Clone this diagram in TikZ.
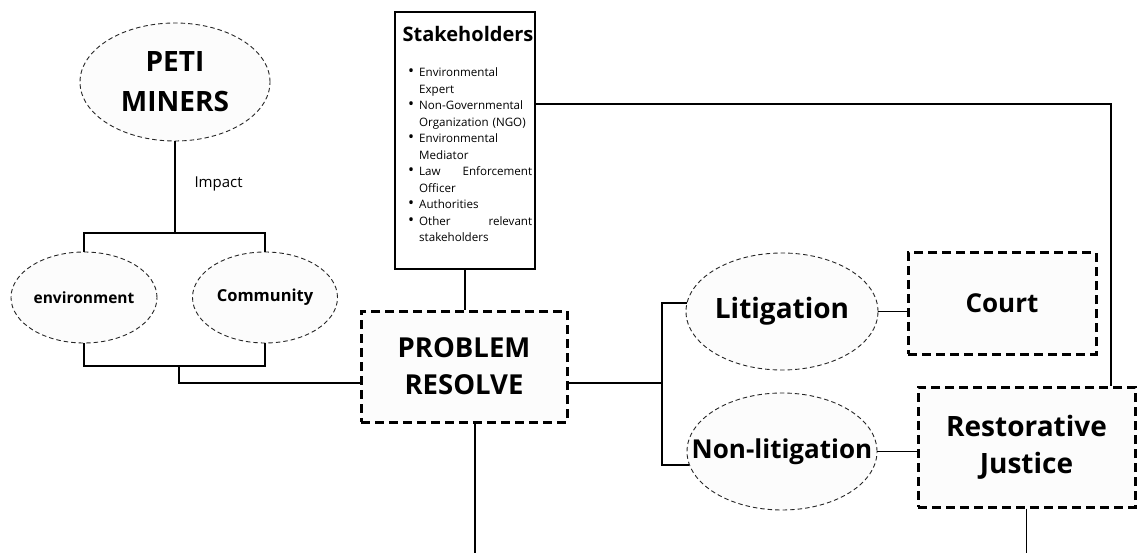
\documentclass[tikz,border=0pt]{standalone}
\usepackage{fontspec}
\setmainfont{Open Sans}
\usetikzlibrary{shapes.geometric}
\tikzset{
  conn/.style={line width=1.9pt, black},
  dashell/.style={ellipse, draw=black!85, line width=0.9pt, dash pattern=on 4.5pt off 3pt, fill=black!1, inner sep=0pt},
  thickbox/.style={rectangle, draw=black, line width=3pt, dash pattern=on 9pt off 5pt, fill=black!1, inner sep=0pt, align=center},
  bigtxt/.style={font=\fontsize{27.5}{37}\selectfont\bfseries},
  lbl/.style={inner sep=0pt, align=center}
}
\newcommand{\bul}{\makebox[0pt][r]{\raisebox{0pt}{\fontsize{16}{16}\selectfont\textbullet}\hspace{5pt}}}
\begin{document}
\begin{tikzpicture}[x=1pt, y=-1pt]
\useasboundingbox[fill=white] (0,0) rectangle (1137,553);

% ellipses (shapes), with their texts on top
\node[dashell, minimum width=190pt, minimum height=118pt] (peti) at (175,82) {};
\node[lbl, font=\fontsize{28}{40}\selectfont\bfseries] (petit) at (peti) {PETI\\MINERS};
\node[dashell, minimum width=146pt, minimum height=91pt] (env) at (84,297.5) {};
\node[lbl, font=\fontsize{15.5}{18}\selectfont\bfseries] (envt) at (env) {environment};
\node[dashell, minimum width=145pt, minimum height=91pt] (com) at (265,297.5) {};
\node[lbl, font=\fontsize{16.5}{18}\selectfont\bfseries] (comt) at (com) {Community};
\node[anchor=west, font=\fontsize{15}{18}\selectfont] (imp) at (191,184) {Impact};

\node[rectangle, draw=black, line width=1.5pt, fill=white, minimum width=140pt, minimum height=257pt, inner sep=0pt] (sh) at (465,140.5) {};
\node[font=\fontsize{20}{24}\selectfont\bfseries, inner sep=0pt] (sht) at (468,34.5) {Stakeholders};
\node[anchor=north west, inner sep=0pt, text width=113pt, align=left, font=\fontsize{11.6}{16.5}\selectfont] (shl) at (419,67.5) {%
\bul Environmental\\
Expert\\
\bul Non-Governmental\\
Organization (NGO)\\
\bul Environmental\\
Mediator\\
\bul Law\hfill Enforcement\\
Officer\\
\bul Authorities\\
\bul Other\hfill relevant\\
stakeholders};

\node[thickbox, minimum width=206pt, minimum height=111pt, bigtxt] (prob) at (464,366.5) {PROBLEM\\RESOLVE};

\node[dashell, minimum width=192pt, minimum height=117pt] (lit) at (782,311.5) {};
\node[lbl, font=\fontsize{28}{32}\selectfont\bfseries] (litt) at (lit) {Litigation};
\node[dashell, minimum width=190pt, minimum height=117pt] (nl) at (782,451.5) {};
\node[lbl, font=\fontsize{26}{30}\selectfont\bfseries] (nlt) at (nl) {Non-litigation};
\node[thickbox, minimum width=188pt, minimum height=101pt, font=\fontsize{26}{30}\selectfont\bfseries] (court) at (1002,303.5) {Court};
\node[thickbox, minimum width=217pt, minimum height=120pt, font=\fontsize{28}{37}\selectfont\bfseries] (rj) at (1026.5,447) {Restorative\\Justice};

% helper coordinates
\coordinate (b1) at (175,233);
\coordinate (b2) at (179,366);
\coordinate (pw) at (361,383);
\coordinate (br) at (662,383);
\coordinate (c1) at (1111,104);
\coordinate (pb) at (475,553);

% connectors
\draw[conn] (peti.south) -- (b1);
\draw[conn] (env.north) -- (env.north |- b1) -- (com.north |- b1) -- (com.north);
\draw[conn] (env.south) -- (env.south |- b2) -- (com.south |- b2) -- (com.south);
\draw[conn] (b2) |- (pw);
\draw[conn] (sh.south) -- (sh.south |- prob.north);
\draw[conn] (sh.east |- c1) -- (c1) -- (c1 |- rj.north);
\draw[conn] (prob.east |- br) -- (br);
\draw[conn] (lit.175) -- (lit.175 -| br) -- (nl.188 -| br) -- (nl.188);
\draw[conn] (lit.east) -- (lit.east -| court.west);
\draw[conn] (nl.east) -- (nl.east -| rj.west);
\draw[conn] (pb |- prob.south) -- (pb);
\draw[conn] (rj.south) -- (rj.south |- pb);
\end{tikzpicture}
\end{document}
